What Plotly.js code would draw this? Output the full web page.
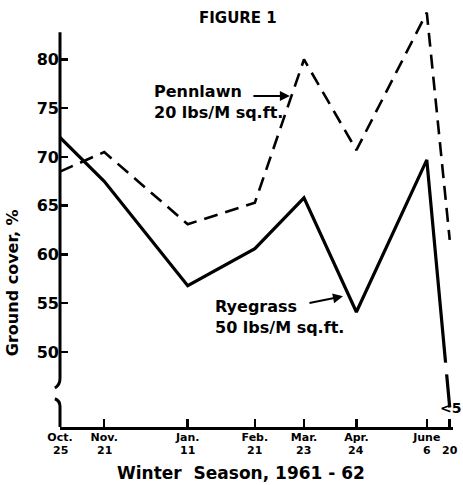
<!DOCTYPE html>
<html>
<head>
<meta charset="utf-8">
<script src="https://cdn.plot.ly/plotly-3.0.1.min.js"></script>
<style>html,body{margin:0;padding:0;background:#fff}</style>
</head>
<body>
<div id="chart" style="width:463px;height:485px"></div>
<script>
// ---- data ----
const dates = ['1961-10-25','1961-11-21','1962-01-11','1962-02-21','1962-03-23','1962-04-24','1962-06-06','1962-06-20'];
const monthLabels = ['Oct.','Nov.','Jan.','Feb.','Mar.','Apr.','June',''];
const dayLabels = ['25','21','11','21','23','24','6','20'];
const pennlawn = [68.5, 70.5, 63.1, 65.3, 80.0, 70.7, 84.8, 61.5];
const ryegrass = [72.0, 67.5, 56.8, 60.6, 65.8, 54.1, 69.7, 4];   // last value reported as "<5"
const yTicks = [50, 55, 60, 65, 70, 75, 80];

// ---- broken y scale: values below the break are drawn in the short segment under it ----
const Y_FLOOR = 42.3, LOW_SCALE = 0.5, BREAK = 45;
const shown = v => v >= BREAK ? v : Y_FLOOR + v * LOW_SCALE;

const F = 'DejaVu Sans';
const black = '#000';

const traces = [
  {x: dates, y: ryegrass.map(shown), mode: 'lines', type: 'scatter',
   line: {color: black, width: 3.2}, hoverinfo: 'skip', name: 'Ryegrass'},
  {x: dates, y: pennlawn.map(shown), mode: 'lines', type: 'scatter',
   line: {color: black, width: 2.6, dash: '14px,8px'}, hoverinfo: 'skip', name: 'Pennlawn'}
];

const dayAnnotations = dates.map((d, i) => ({
  text: dayLabels[i], xref: 'x', yref: 'paper', x: d, y: -0.055,
  xanchor: 'center', yanchor: 'middle', showarrow: false,
  font: {family: F, size: 11, weight: 'bold', color: black}
}));

const layout = {
  width: 463, height: 485,
  margin: {l: 60, r: 10, t: 0, b: 58},
  paper_bgcolor: '#fff', plot_bgcolor: '#fff',
  showlegend: false,
  font: {family: F, color: black},
  xaxis: {
    type: 'date', range: ['1961-10-25', '1962-06-22'],
    tickmode: 'array', tickvals: dates, ticktext: monthLabels, tickangle: 0,
    ticks: 'inside', ticklen: 8, tickwidth: 2.5, tickcolor: black,
    ticklabelstandoff: -2,
    showline: true, linewidth: 3, linecolor: black,
    showgrid: false, zeroline: false,
    tickfont: {family: F, size: 11, weight: 'bold', color: black}
  },
  yaxis: {
    range: [Y_FLOOR, 86.1],
    tickmode: 'array', tickvals: yTicks, ticktext: yTicks.map(String),
    ticks: 'inside', ticklen: 8, tickwidth: 2.5, tickcolor: black,
    showline: false, showgrid: false, zeroline: false,
    tickfont: {family: F, size: 16, weight: 'bold', color: black}
  },
  shapes: [
    // y axis, upper part with break hook
    {type: 'path', xref: 'paper', yref: 'y', layer: 'above',
     path: 'M 0,82.8 L 0,47.3 Q 0,46.6 -0.013,46.3', line: {color: black, width: 3}},
    // y axis, lower part with break hook
    {type: 'path', xref: 'paper', yref: 'y', layer: 'above',
     path: 'M -0.013,45.2 Q 0,45.0 0,44.4 L 0,42.3', line: {color: black, width: 3}},
    // gap in the ryegrass drop line
    {type: 'rect', xref: 'x', yref: 'y', layer: 'above',
     x0: '1962-06-11', x1: '1962-06-20', y0: 47.7, y1: 48.9,
     fillcolor: '#fff', line: {width: 0}}
  ],
  annotations: [
    {text: 'FIGURE 1', xref: 'paper', yref: 'paper', x: 0.453, y: 0.958,
     xanchor: 'center', yanchor: 'middle',
     showarrow: false, font: {family: F, size: 15, weight: 'bold', color: black}},
    {text: 'Ground cover, %', xref: 'paper', yref: 'paper', x: -0.122, y: 0.337,
     xanchor: 'center', yanchor: 'middle',
     textangle: -90, showarrow: false, font: {family: F, size: 16, weight: 'bold', color: black}},
    {text: 'Winter  Season, 1961 - 62', xref: 'paper', yref: 'paper', x: 0.46, y: -0.107,
     xanchor: 'center', yanchor: 'middle',
     showarrow: false, font: {family: F, size: 17, weight: 'bold', color: black}},
    {text: 'Pennlawn<br>20 lbs/M sq.ft.', xref: 'paper', yref: 'paper', x: 0.234, y: 0.762,
     xanchor: 'left', yanchor: 'middle', align: 'left', showarrow: false,
     font: {family: F, size: 16, weight: 'bold', color: black}},
    {text: '', xref: 'paper', yref: 'paper', x: 0.585, y: 0.775, ax: -38, ay: 0,
     showarrow: true, arrowhead: 2, arrowsize: 1, arrowwidth: 2, arrowcolor: black},
    {text: 'Ryegrass<br>50 lbs/M sq.ft.', xref: 'paper', yref: 'paper', x: 0.389, y: 0.258,
     xanchor: 'left', yanchor: 'middle', align: 'left', showarrow: false,
     font: {family: F, size: 16, weight: 'bold', color: black}},
    {text: '', xref: 'paper', yref: 'paper', x: 0.72, y: 0.306, ax: -35, ay: 7,
     showarrow: true, arrowhead: 2, arrowsize: 1, arrowwidth: 2, arrowcolor: black},
    {text: '<5', xref: 'x', yref: 'y', x: dates[7], y: shown(ryegrass[7]),
     xanchor: 'center', yanchor: 'middle', xshift: 1, showarrow: false,
     font: {family: F, size: 14, weight: 'bold', color: black}}
  ].concat(dayAnnotations)
};

Plotly.newPlot('chart', traces, layout, {staticPlot: true, displayModeBar: false});
</script>
</body>
</html>
